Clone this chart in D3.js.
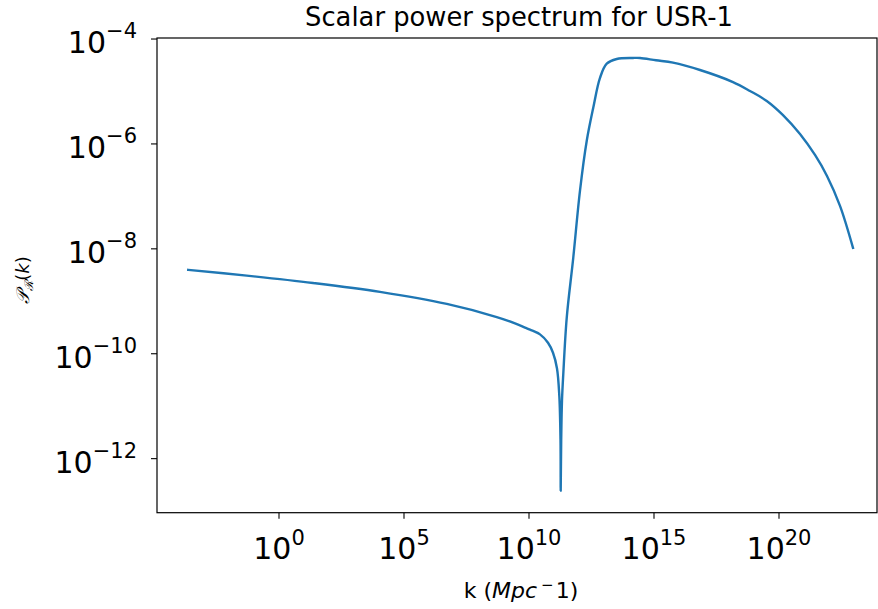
<!doctype html>
<html>
  <head>
    <script src="https://cdnjs.cloudflare.com/ajax/libs/d3/7.8.5/d3.min.js"></script>
    <style>
      body { margin: 0; background: #fff; }
      text { font-family: "DejaVu Sans", sans-serif; fill: #000; }
    </style>
  </head>
  <body>
    <svg id="chart" width="878" height="609"></svg>
    <script>
      // log10(k) and log10(P_R)
      var logK = [-3.61, -1.27, 1.38, 4.06, 6.73, 8.73, 9.46, 9.86, 10.06, 10.46, 10.78, 10.98, 11.14, 11.232, 11.28, 11.288,
                  11.308, 11.34, 11.392, 11.53, 11.79, 12.06, 12.33, 12.59, 12.86, 13.13, 13.53, 14.18, 14.46, 15.1,
                  15.78, 16.86, 18.18, 18.86, 19.53, 20.18, 20.86, 21.46, 21.94, 22.46, 22.98];
      var logP = [-8.41, -8.52, -8.66, -8.83, -9.06, -9.31, -9.43, -9.51, -9.55, -9.64, -9.80, -9.99, -10.29, -10.81, -11.66, -12.62,
                  -11.66, -10.90, -10.39, -9.32, -8.18, -6.90, -5.95, -5.32, -4.75, -4.48, -4.39, -4.37, -4.37, -4.415,
                  -4.46, -4.60, -4.83, -5.00, -5.19, -5.46, -5.82, -6.22, -6.62, -7.19, -7.99];

      var xTicks = [0, 5, 10, 15, 20];
      var yTicks = [-4, -6, -8, -10, -12];

      var plotL = 157, plotR = 877, plotT = 38, plotB = 512.7;
      var svg = d3.select("#chart");

      var x = d3.scaleLog().domain([Math.pow(10, -4.86), Math.pow(10, 23.94)]).range([plotL, plotR]);
      var y = d3.scaleLog().domain([Math.pow(10, -13.04), Math.pow(10, -3.99)]).range([plotB, plotT]);

      var data = logK.map((d, i) => ({k: Math.pow(10, d), p: Math.pow(10, logP[i])}));

      var line = d3.line()
        .x(d => x(d.k))
        .y(d => y(d.p))
        .curve(d3.curveCatmullRom.alpha(0.5));

      svg.append("path")
        .datum(data)
        .attr("d", line)
        .attr("fill", "none")
        .attr("stroke", "#1f77b4")
        .attr("stroke-width", 2.4)
        .attr("stroke-linejoin", "round")
        .attr("stroke-linecap", "square");

      function supLabel(sel, dy) {
        sel.each(function(e) {
          var t = d3.select(this).text("");
          t.append("tspan").text("10");
          t.append("tspan")
            .attr("dy", dy)
            .attr("font-size", "21px")
            .text(String(e).replace("-", "\u2212"));
        });
      }

      var xAxis = svg.append("g")
        .attr("transform", "translate(0," + plotB + ")")
        .call(d3.axisBottom(x)
          .tickValues(xTicks.map(e => Math.pow(10, e)))
          .tickSize(6).tickPadding(9));
      xAxis.selectAll(".tick text")
        .data(xTicks)
        .attr("font-size", "30px")
        .attr("dy", "0")
        .attr("y", 46)
        .call(supLabel, -14);

      var yAxis = svg.append("g")
        .attr("transform", "translate(" + plotL + ",0)")
        .call(d3.axisLeft(y)
          .tickValues(yTicks.map(e => Math.pow(10, e)))
          .tickSize(6));
      yAxis.selectAll(".tick text")
        .data(yTicks)
        .attr("font-size", "30px")
        .attr("x", -20)
        .attr("dy", "0")
        .attr("y", 14)
        .call(supLabel, -15);

      svg.selectAll(".domain").remove();
      svg.selectAll(".tick line").attr("stroke", "#000").attr("stroke-width", 1.1);

      svg.append("rect")
        .attr("x", plotL).attr("y", plotT)
        .attr("width", plotR - plotL).attr("height", plotB - plotT)
        .attr("fill", "none")
        .attr("stroke", "#000")
        .attr("stroke-width", 1.2);

      svg.append("text")
        .attr("x", 519).attr("y", 26)
        .attr("text-anchor", "middle")
        .attr("font-size", "25.8px")
        .text("Scalar power spectrum for USR-1");

      var xl = svg.append("text")
        .attr("x", 521).attr("y", 598)
        .attr("text-anchor", "middle")
        .attr("font-size", "22px");
      xl.append("tspan").text("k (");
      xl.append("tspan").attr("font-style", "italic").text("Mpc");
      xl.append("tspan").attr("dy", -8).attr("dx", 4).attr("font-size", "15px").text("\u2212");
      xl.append("tspan").attr("dy", 8).attr("dx", 2).text("1)");

      var yl = svg.append("text")
        .attr("transform", "translate(29,280) rotate(-90)")
        .attr("text-anchor", "middle")
        .attr("font-size", "18px");
      yl.append("tspan").attr("font-family", "DejaVu Serif").attr("font-style", "italic").text("\uD835\uDCAB");
      yl.append("tspan").attr("dy", 4).attr("font-size", "12px").attr("font-family", "DejaVu Serif").attr("font-style", "italic").text("\u211B");
      yl.append("tspan").attr("dy", -4).text("(");
      yl.append("tspan").attr("font-style", "italic").text("k");
      yl.append("tspan").text(")");
    </script>
  </body>
</html>
